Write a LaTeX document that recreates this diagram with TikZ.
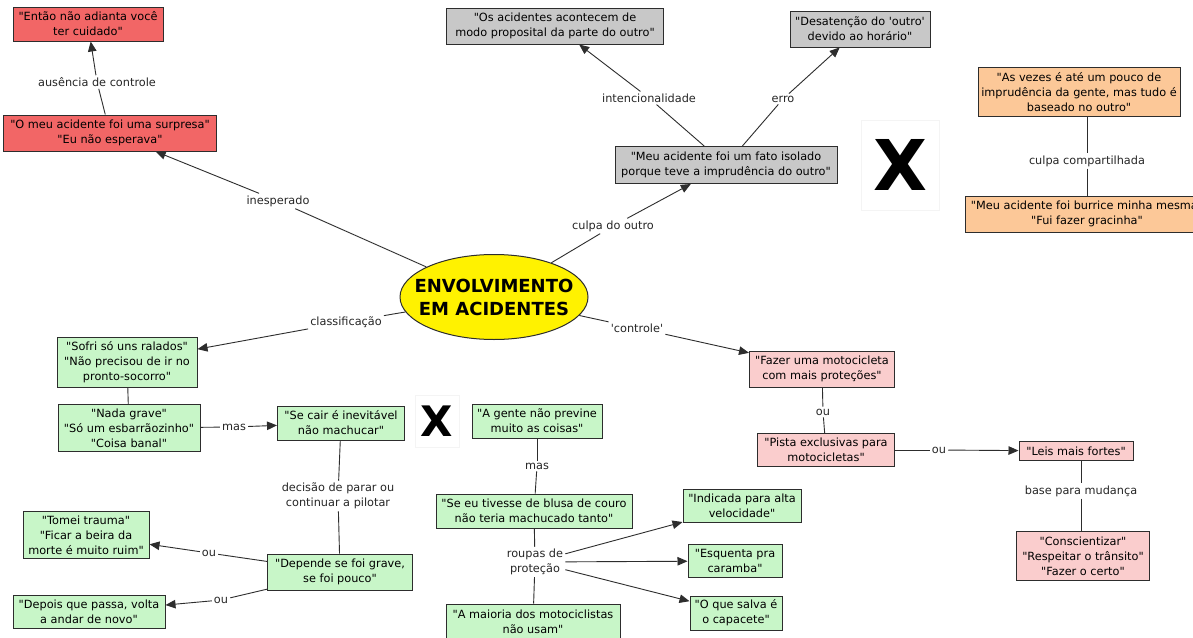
\documentclass[tikz,border=0pt]{standalone}
\usepackage{fontspec}
\newfontfamily\vf{DejaVu Sans}
\usetikzlibrary{shapes.geometric,arrows.meta}
\definecolor{cred}{RGB}{242,102,102}
\definecolor{cgray}{RGB}{200,200,200}
\definecolor{corange}{RGB}{252,200,152}
\definecolor{cgreen}{RGB}{200,246,200}
\definecolor{cpink}{RGB}{250,205,205}
\definecolor{cline}{RGB}{45,45,45}
\definecolor{cfaint}{RGB}{244,244,244}
\begin{document}
\begin{tikzpicture}[x=1pt,y=-1pt,
  font=\vf\fontsize{11.3}{15}\selectfont,
  box/.style={draw=cline,line width=1pt,align=center,inner sep=0pt,text=black},
  redbox/.style={box,fill=cred},
  graybox/.style={box,fill=cgray},
  orangebox/.style={box,fill=corange},
  greenbox/.style={box,fill=cgreen},
  pinkbox/.style={box,fill=cpink},
  lab/.style={align=center,inner sep=2pt,text=black!85},
  ln/.style={draw=cline,line width=0.9pt},
  arr/.style={ln,-{Triangle[length=10pt,width=8.5pt]}},
  bigx/.style={font=\vf\bfseries\fontsize{#1}{#1}\selectfont,inner sep=0pt}
]
\useasboundingbox (0,0) rectangle (1193,637);
\clip (0,0) rectangle (1193,637);
\fill[white] (0,0) rectangle (1193,637);

% center
\node[ellipse,draw=cline,line width=1pt,fill=yellow,minimum width=188pt,minimum height=85pt,inner sep=0pt,align=center,font=\vf\bfseries\fontsize{18}{23}\selectfont] (c) at (494,297) {\makebox[0pt]{ENVOLVIMENTO}\\\makebox[0pt]{EM ACIDENTES}};

% red
\node[redbox,minimum width=150pt,minimum height=34pt] (entao) at (88,24) {"Então não adianta você\\ter cuidado"};
\node[redbox,minimum width=213pt,minimum height=36pt] (surpresa) at (110,133) {"O meu acidente foi uma surpresa"\\"Eu não esperava"};

% gray
\node[graybox,minimum width=217pt,minimum height=36pt] (os) at (555,26) {"Os acidentes acontecem de\\modo proposital da parte do outro"};
\node[graybox,minimum width=140pt,minimum height=36pt] (desat) at (860,29) {"Desatenção do 'outro'\\devido ao horário"};
\node[graybox,minimum width=222pt,minimum height=37pt] (meu) at (726,165) {"Meu acidente foi um fato isolado\\porque teve a imprudência do outro"};

% orange
\node[orangebox,minimum width=202pt,minimum height=49pt] (asvezes) at (1079,92) {"As vezes é até um pouco de\\imprudência da gente, mas tudo é\\baseado no outro"};
\node[orangebox,minimum width=244pt,minimum height=36pt] (burrice) at (1087,214) {"Meu acidente foi burrice minha mesma"\\"Fui fazer gracinha"};

% X marks
\node[draw=cfaint,minimum width=78pt,minimum height=90pt,bigx=70] (xbig) at (900,165) {X};
\node[draw=cfaint,minimum width=44pt,minimum height=52pt,bigx=42] (xsmall) at (437,421) {X};

% green
\node[greenbox,minimum width=140pt,minimum height=50pt] (sofri) at (127,362) {"Sofri só uns ralados"\\"Não precisou de ir no\\pronto-socorro"};
\node[greenbox,minimum width=142pt,minimum height=47pt] (nada) at (129,428) {"Nada grave"\\"Só um esbarrãozinho"\\"Coisa banal"};
\node[greenbox,minimum width=127pt,minimum height=34pt] (secair) at (341,423) {"Se cair é inevitável\\não machucar"};
\node[greenbox,minimum width=130pt,minimum height=34pt] (agente) at (537,421) {"A gente não previne\\muito as coisas"};
\node[greenbox,minimum width=196pt,minimum height=34pt] (seeu) at (534,511) {"Se eu tivesse de blusa de couro\\não teria machucado tanto"};
\node[greenbox,minimum width=118pt,minimum height=33pt] (indic) at (742,506) {"Indicada para alta\\velocidade"};
\node[greenbox,minimum width=94pt,minimum height=33pt] (esq) at (735,561) {"Esquenta pra\\caramba"};
\node[greenbox,minimum width=92pt,minimum height=34pt] (osalva) at (736,613) {"O que salva é\\o capacete"};
\node[greenbox,minimum width=174pt,minimum height=36pt] (maioria) at (533,622) {"A maioria dos motociclistas\\não usam"};
\node[greenbox,minimum width=126pt,minimum height=47pt] (tomei) at (86,535) {"Tomei trauma"\\"Ficar a beira da\\morte é muito ruim"};
\node[greenbox,minimum width=145pt,minimum height=36pt] (depende) at (340,572) {"Depende se foi grave,\\se foi pouco"};
\node[greenbox,minimum width=152pt,minimum height=33pt] (depois) at (89,612) {"Depois que passa, volta\\a andar de novo"};

% pink
\node[pinkbox,minimum width=145pt,minimum height=36pt] (fazer) at (822,369) {"Fazer uma motocicleta\\com mais proteções"};
\node[pinkbox,minimum width=137pt,minimum height=33pt] (pista) at (826,450) {"Pista exclusivas para\\motocicletas"};
\node[pinkbox,minimum width=114pt,minimum height=19pt] (leis) at (1076,451) {"Leis mais fortes"};
\node[pinkbox,minimum width=133pt,minimum height=49pt] (consc) at (1083,556) {"Conscientizar"\\"Respeitar o trânsito"\\"Fazer o certo"};

% labels
\node[lab] (l_aus) at (97,82) {ausência de controle};
\node[lab] (l_ines) at (278,201) {inesperado};
\node[lab] (l_culpa) at (613,226) {culpa do outro};
\node[lab] (l_int) at (649,98) {intencionalidade};
\node[lab] (l_erro) at (783,99) {erro};
\node[lab] (l_comp) at (1087,161) {culpa compartilhada};
\node[lab] (l_class) at (346,322) {classificação};
\node[lab] (l_ctrl) at (637,328) {'controle'};
\node[lab] (l_mas1) at (234,427) {mas};
\node[lab] (l_dec) at (338,496) {decisão de parar ou\\continuar a pilotar};
\node[lab] (l_ou1) at (209,553) {ou};
\node[lab] (l_ou2) at (221,600) {ou};
\node[lab] (l_mas2) at (537,466) {mas};
\node[lab] (l_roupas) at (535,562) {roupas de\\proteção};
\node[lab] (l_ou3) at (823,412) {ou};
\node[lab] (l_ou4) at (939,450) {ou};
\node[lab] (l_base) at (1081,491) {base para mudança};

% connectors
\draw[ln] (surpresa) -- (l_aus); \draw[arr] (l_aus) -- (entao);
\draw[ln] (c) -- (l_ines); \draw[arr] (l_ines) -- (surpresa);
\draw[ln] (c) -- (l_culpa); \draw[arr] (l_culpa) -- (meu);
\draw[ln] (meu) -- (l_int); \draw[arr] (l_int) -- (os);
\draw[ln] (meu) -- (l_erro); \draw[arr] (l_erro) -- (desat);
\draw[ln] (asvezes.south -| l_comp) -- (l_comp); \draw[ln] (l_comp) -- (burrice);
\draw[ln] (c) -- (l_class); \draw[arr] (l_class) -- (sofri);
\draw[ln] (c) -- (l_ctrl); \draw[arr] (l_ctrl) -- (fazer);
\draw[ln] (sofri) -- (nada);
\draw[ln] (nada) -- (l_mas1); \draw[arr] (l_mas1) -- (secair);
\draw[ln] (secair) -- (l_dec); \draw[ln] (l_dec) -- (depende);
\draw[ln] (depende) -- (l_ou1); \draw[arr] (l_ou1) -- (tomei);
\draw[ln] (depende) -- (l_ou2); \draw[arr] (l_ou2) -- (depois);
\draw[ln] (agente) -- (l_mas2); \draw[ln] (l_mas2) -- (seeu);
\draw[ln] (seeu) -- (l_roupas); \draw[ln] (l_roupas) -- (maioria);
\draw[arr] (l_roupas) -- (indic);
\draw[arr] (l_roupas) -- (esq);
\draw[arr] (l_roupas) -- (osalva);
\draw[ln] (fazer) -- (l_ou3); \draw[ln] (l_ou3) -- (pista);
\draw[ln] (pista) -- (l_ou4); \draw[arr] (l_ou4) -- (leis);
\draw[ln] (leis.south -| l_base) -- (l_base); \draw[ln] (l_base) -- (consc.north -| l_base);
\end{tikzpicture}
\end{document}
